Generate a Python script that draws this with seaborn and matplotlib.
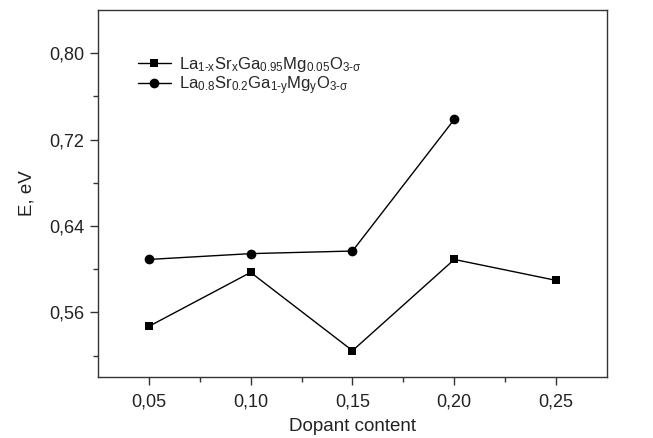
import matplotlib
matplotlib.use("Agg")
import matplotlib.pyplot as plt
import seaborn as sns
import pandas as pd
from matplotlib.ticker import FuncFormatter, FixedLocator

# Data
x_sr = [0.05, 0.10, 0.15, 0.20, 0.25]
e_sr = [0.547, 0.597, 0.5245, 0.609, 0.5896]
x_mg = [0.05, 0.10, 0.15, 0.20]
e_mg = [0.609, 0.6144, 0.6168, 0.7388]

x_major = [0.05, 0.10, 0.15, 0.20, 0.25]
x_minor = [0.075, 0.125, 0.175, 0.225]
y_major = [0.56, 0.64, 0.72, 0.80]
y_minor = [0.52, 0.60, 0.68, 0.76]

label_sr = r"La$_{\mathregular{1\text{-}x}}$Sr$_{\mathregular{x}}$Ga$_{\mathregular{0.95}}$Mg$_{\mathregular{0.05}}$O$_{\mathregular{3\text{-}\sigma}}$"
label_mg = r"La$_{\mathregular{0.8}}$Sr$_{\mathregular{0.2}}$Ga$_{\mathregular{1\text{-}y}}$Mg$_{\mathregular{y}}$O$_{\mathregular{3\text{-}\sigma}}$"

df = pd.concat([
    pd.DataFrame({"x": x_sr, "E": e_sr, "series": label_sr}),
    pd.DataFrame({"x": x_mg, "E": e_mg, "series": label_mg}),
], ignore_index=True)

sns.set_theme(style="ticks")
plt.rcParams["font.family"] = ["Liberation Sans", "DejaVu Sans"]
plt.rcParams["mathtext.fontset"] = "custom"
plt.rcParams["mathtext.rm"] = "Liberation Sans"
plt.rcParams["mathtext.it"] = "Liberation Sans:italic"
plt.rcParams["mathtext.sf"] = "Liberation Sans"

fig = plt.figure(figsize=(6.53, 4.38), dpi=100)
ax = fig.add_axes([0.150, 0.139, 0.7796, 0.838])

sns.lineplot(data=df, x="x", y="E", hue="series", style="series",
             markers={label_sr: "s", label_mg: "o"}, dashes=False,
             palette={label_sr: "black", label_mg: "black"},
             markersize=6.5, linewidth=1.0, markeredgewidth=0,
             hue_order=[label_sr, label_mg], style_order=[label_sr, label_mg],
             ax=ax)
for ln in ax.lines:
    if ln.get_marker() == "s":
        ln.set_markersize(5.8)
    elif ln.get_marker() == "o":
        ln.set_markersize(7.0)

ax.set_xlim(0.025, 0.275)
ax.set_ylim(0.50, 0.84)
ax.xaxis.set_major_locator(FixedLocator(x_major))
ax.xaxis.set_minor_locator(FixedLocator(x_minor))
ax.yaxis.set_major_locator(FixedLocator(y_major))
ax.yaxis.set_minor_locator(FixedLocator(y_minor))

fmt = FuncFormatter(lambda v, p: f"{v:.2f}".replace(".", ","))
ax.xaxis.set_major_formatter(fmt)
ax.yaxis.set_major_formatter(fmt)

ax.tick_params(axis="both", which="major", direction="out", length=6, width=1,
               labelsize=13, color="#333333", labelcolor="#222222", pad=4)
ax.tick_params(axis="x", which="major", pad=6)
ax.tick_params(axis="both", which="minor", direction="out", length=3.5, width=1,
               color="#333333")
for s in ax.spines.values():
    s.set_visible(True)
    s.set_linewidth(1.0)
    s.set_color("#333333")

ax.set_xlabel("Dopant content", fontsize=13.5, color="#222222", labelpad=5)
ax.set_ylabel("E, eV", fontsize=13.5, color="#222222", labelpad=10)

handles, labels = ax.get_legend_handles_labels()
for h in handles:
    if h.get_marker() == "s":
        h.set_markersize(5.8)
    elif h.get_marker() == "o":
        h.set_markersize(7.0)
ax.legend(handles, labels, loc="upper left", bbox_to_anchor=(0.065, 0.895),
          frameon=False, fontsize=12, handlelength=2.0, handletextpad=0.45,
          borderaxespad=0, labelspacing=0.0)

fig.savefig("out.png", dpi=100)
